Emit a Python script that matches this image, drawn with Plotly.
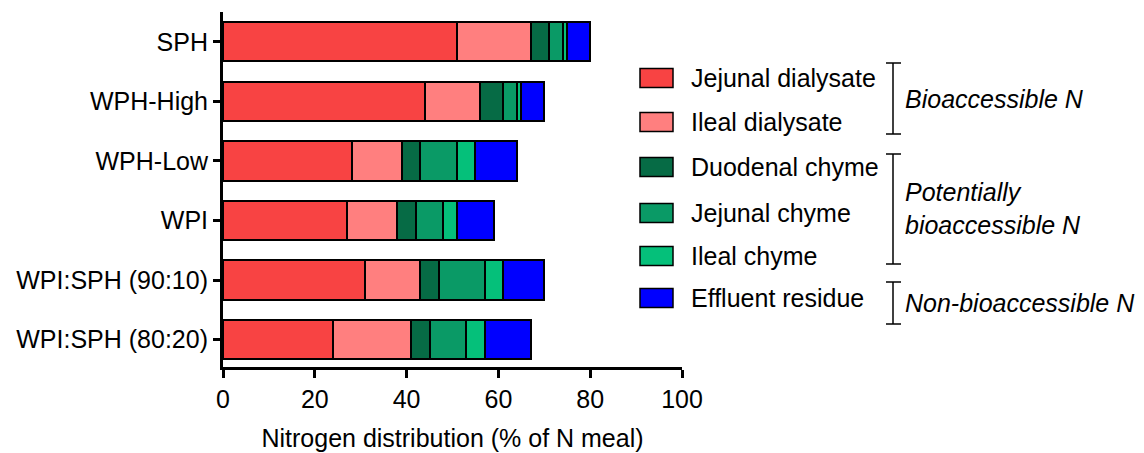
import plotly.graph_objects as go

categories = ["SPH", "WPH-High", "WPH-Low", "WPI", "WPI:SPH (90:10)", "WPI:SPH (80:20)"]
series_names = ["Jejunal dialysate", "Ileal dialysate", "Duodenal chyme",
                "Jejunal chyme", "Ileal chyme", "Effluent residue"]
jejunal_dialysate = [51, 44, 28, 27, 31, 24]
ileal_dialysate = [16, 12, 11, 11, 12, 17]
duodenal_chyme = [4, 5, 4, 4, 4, 4]
jejunal_chyme = [3, 3, 8, 6, 10, 8]
ileal_chyme = [1, 1, 4, 3, 4, 4]
effluent_residue = [5, 5, 9, 8, 9, 10]
colors = ["#F84343", "#FF7F7F", "#066B45", "#0A9A66", "#05C07A", "#0000FF"]
x_ticks = [0, 20, 40, 60, 80, 100]
groups = [("Bioaccessible N", 0, 1), ("Potentially<br>bioaccessible N", 2, 4), ("Non-bioaccessible N", 5, 5)]

series = [jejunal_dialysate, ileal_dialysate, duodenal_chyme, jejunal_chyme, ileal_chyme, effluent_residue]

FONT = "Liberation Sans, Arial, sans-serif"
FS = 25
# page offset (body margin 8px)
OFF = 8
W, H = 1144 - OFF, 453 - OFF
PL, PR, PT, PB = 223, 682, 12, 367   # plot area in page pixels

fig = go.Figure()
for name, vals, col in zip(series_names, series, colors):
    fig.add_trace(go.Bar(
        y=categories, x=vals, name=name, orientation="h",
        marker=dict(color=col, line=dict(color="black", width=2)),
        width=0.66, showlegend=False,
    ))

px = lambda v: (v - PL) / (PR - PL)
py = lambda v: (PB - v) / (PB - PT)

shapes = []
annotations = []
leg_y = [78, 122, 167, 213, 256, 298]
for i, (name, col) in enumerate(zip(series_names, colors)):
    yc = leg_y[i]
    shapes.append(dict(type="rect", xref="paper", yref="paper",
                       x0=px(640), x1=px(673), y0=py(yc - 9.5), y1=py(yc + 9.5),
                       fillcolor=col, line=dict(color="black", width=1.5)))
    annotations.append(dict(xref="paper", yref="paper", x=px(689), y=py(yc),
                            text=name, showarrow=False, xanchor="left", yanchor="middle",
                            font=dict(family=FONT, size=FS, color="black")))

brackets = [(63, 134), (154, 264), (282, 324)]
for (label, a, b), (ytop, ybot) in zip(groups, brackets):
    shapes.append(dict(type="line", xref="paper", yref="paper", x0=px(893), x1=px(893),
                       y0=py(ytop), y1=py(ybot), line=dict(color="black", width=1.5)))
    for yy in (ytop, ybot):
        shapes.append(dict(type="line", xref="paper", yref="paper", x0=px(886), x1=px(901),
                           y0=py(yy), y1=py(yy), line=dict(color="black", width=1.5)))
    annotations.append(dict(xref="paper", yref="paper", x=px(903), y=py((ytop + ybot) / 2),
                            text="<i>" + label + "</i>", showarrow=False, xanchor="left",
                            yanchor="middle", align="left",
                            font=dict(family=FONT, size=FS, color="black")))

fig.update_layout(
    barmode="stack",
    width=W, height=H,
    margin=dict(l=PL - OFF, r=W - (PR - OFF), t=PT - OFF, b=H - (PB - OFF)),
    paper_bgcolor="white", plot_bgcolor="white",
    shapes=shapes, annotations=annotations,
    font=dict(family=FONT, size=FS, color="black"),
)
fig.update_xaxes(range=[0, 100], tickvals=x_ticks, showline=True, linecolor="black", linewidth=3,
                 ticks="outside", ticklen=8, tickwidth=3, tickcolor="black",
                 showgrid=False, zeroline=False, automargin=False,
                 tickfont=dict(family=FONT, size=FS),
                 title=dict(text="Nitrogen distribution (% of N meal)", font=dict(family=FONT, size=FS), standoff=18))
fig.update_yaxes(categoryorder="array", categoryarray=categories, range=[5.46, -0.5],
                 showline=True, linecolor="black", linewidth=3, automargin=False,
                 ticks="outside", ticklen=7, tickwidth=3, tickcolor="black",
                 showgrid=False, zeroline=False, tickfont=dict(family=FONT, size=FS))

fig.write_html("out.html")
